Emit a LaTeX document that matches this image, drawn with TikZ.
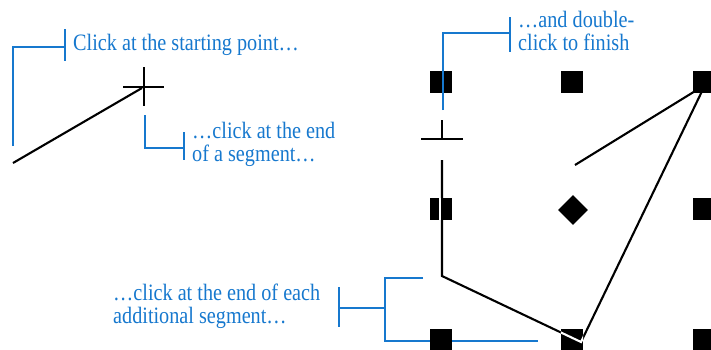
\documentclass[tikz,border=0pt]{standalone}
\usepackage{fontspec}
\usepackage{xcolor}
\usepackage{tikz}
\usetikzlibrary{positioning,shapes.geometric}
\newfontfamily\notefont[FakeStretch=0.86]{Liberation Serif}
\definecolor{calloutblue}{RGB}{22,120,206}

\tikzset{
  callout/.style={draw=calloutblue, line width=2.8pt},
  note/.style={text=calloutblue, font=\notefont\fontsize{23.5}{23}\selectfont,
    align=left, inner sep=0pt, anchor=base west},
  handle/.style={fill=black, minimum size=22pt, inner sep=0pt},
  rubber/.style={line width=2.1pt},
}

\begin{document}
\begin{tikzpicture}[x=1pt,y=-1pt]
  \useasboundingbox (0,0) rectangle (711,349);
  \clip (0,0) rectangle (711,349);

  % left half: first click and first segment
  \node[note] (start) at (73,50) {Click at the starting point\ldots};
  \node[note] (seg) at (192,161) {\ldots click at the end\\of a segment\ldots};
  \coordinate (a0) at (13,163);
  \coordinate (a1) at (142,88);
  \draw[rubber] (a0) -- (a1);
  \draw[line width=2pt] (123,87) -- (164,87) (144,67) -- (144,106);
  \draw[callout] (13,146) |- (65,47);
  \draw[callout] (65,29) -- (65,61);
  \draw[callout] (145,115) |- (184,148);
  \draw[callout] (184,132) -- (184,160);

  % right half: grid of handles
  \foreach \n/\x/\y in {h11/441/82, h12/572/82, h13/704/82,
                        h21/441/209, h23/704/209,
                        h31/441/340, h32/572/340, h33/704/340}
    \node[handle] (\n) at (\x,\y) {};
  \node[handle, diamond, minimum size=0pt, inner sep=7.5pt] (h22) at (573,210) {};

  \node[note] (finish) at (518,50) {\ldots and double-\\click to finish};
  \node[note] (each) at (113,323) {\ldots click at the end of each\\additional segment\ldots};

  % the polygon so far
  \coordinate (p0) at (442,160);
  \coordinate (p1) at (442,276);
  \coordinate (p2) at (581,342);
  \coordinate (p3) at (705,85);
  \coordinate (p4) at (575,165);
  \draw[rubber, line join=miter] (p0) -- (p1) -- (p2) -- (p3) -- (p4);
  \draw[white, line width=4.5pt] (441,198) -- (441,220);
  \draw[rubber] (442,197) -- (442,221);
  \begin{scope}
    \clip (h32.north west) rectangle (h32.south east);
    \draw[rubber, white] (p1) -- (p2) -- (p3);
  \end{scope}

  % cursor at the double-click
  \draw[line width=2pt] (421,139) -- (463,139) (442,120) -- (442,139);

  % callouts on the right
  \draw[callout] (443,110) |- (510,33);
  \draw[callout] (510,17) -- (510,52);
  \draw[callout] (339,287) -- (339,327);
  \draw[callout] (339,308) -- (385,308);
  \draw[callout] (423,278) -| (385,341) -- (430,341);
  \draw[callout] (452,341) -- (538,341);
\end{tikzpicture}
\end{document}
